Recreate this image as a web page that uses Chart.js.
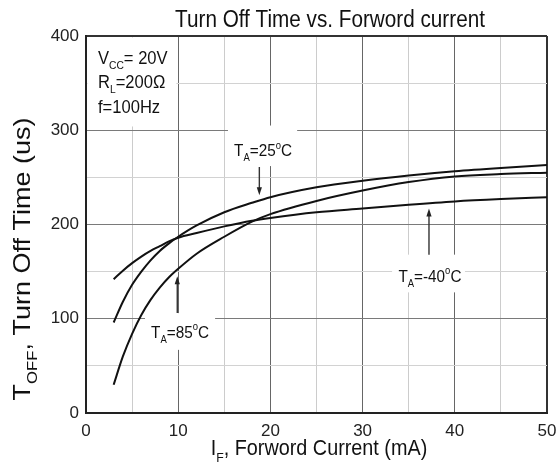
<!DOCTYPE html>
<html>
<head>
<meta charset="utf-8">
<script src="https://cdn.jsdelivr.net/npm/chart.js@4"></script>
<style>html,body{margin:0;padding:0;background:#fff}canvas{display:block}</style>
</head>
<body>
<canvas id="c" width="556" height="464"></canvas>
<script>
// ---- data ----
const currents     = [3, 4, 5, 6, 7, 8, 9, 10, 12, 15, 18, 20, 25, 30, 35, 40, 45, 50];
const toff25       = [96, 118, 136, 150, 162, 172, 180, 187, 199, 213, 223, 229, 239.5, 246.5, 252, 256.5, 260, 263];
const toff85       = [30, 60, 84, 104, 120, 133, 144, 153, 169, 187, 203, 211, 225, 236, 245, 251, 253.5, 255];
const toffMinus40  = [142, 151, 159, 166, 172, 177, 182, 186, 191, 198, 204, 207, 213, 217, 221, 224.5, 227, 229];
const xTickLabels  = [0, 10, 20, 30, 40, 50];
const yTickLabels  = [0, 100, 200, 300, 400];
const seriesNames  = ['TA=25°C', 'TA=85°C', 'TA=-40°C'];

const FONT = "'Liberation Sans', Arial, Helvetica, sans-serif";
const SX = 0.9;

function partsWidth(ctx, parts, size) {
  let w = 0;
  for (const [t, kind] of parts) {
    ctx.font = (kind ? size * 0.62 : size) + 'px ' + FONT;
    w += ctx.measureText(t).width;
  }
  return w;
}
function drawRich(ctx, parts, x, y, size, align, sx) {
  ctx.save();
  ctx.translate(x, y);
  ctx.scale(sx, 1);
  const w = partsWidth(ctx, parts, size);
  let cx = align === 'center' ? -w / 2 : (align === 'right' ? -w : 0);
  ctx.textAlign = 'left';
  ctx.textBaseline = 'alphabetic';
  ctx.fillStyle = '#111';
  for (const [t, kind] of parts) {
    const s = kind ? size * 0.62 : size;
    ctx.font = s + 'px ' + FONT;
    const dy = kind === 'sub' ? size * 0.3 : (kind === 'sup' ? -size * 0.42 : 0);
    ctx.fillText(t, cx, dy);
    cx += ctx.measureText(t).width;
  }
  ctx.restore();
}

const notes = [
  { parts: [['T'], ['A', 'sub'], ['=25'], ['o', 'sup'], ['C']], x: 19.2, y: 273, box: [15.4, 22.9, 305, 262], arrow: { x: 18.8, from: 261, to: 231 } },
  { parts: [['T'], ['A', 'sub'], ['=85'], ['o', 'sup'], ['C']], x: 10.2, y: 80, box: [6.4, 14.0, 106, 67], arrow: { x: 9.9, from: 106, to: 145 } },
  { parts: [['T'], ['A', 'sub'], ['=-40'], ['o', 'sup'], ['C']], x: 37.3, y: 139.5, box: [33.2, 41.1, 168, 128], arrow: { x: 37.2, from: 168, to: 217 } }
];

function arrow(ctx, px, y1, y2) {
  const dir = y2 > y1 ? 1 : -1;
  ctx.save();
  ctx.strokeStyle = '#333';
  ctx.fillStyle = '#222';
  ctx.lineWidth = 1.4;
  ctx.beginPath();
  ctx.moveTo(px, y1);
  ctx.lineTo(px, y2 - dir * 7);
  ctx.stroke();
  ctx.beginPath();
  ctx.moveTo(px, y2);
  ctx.lineTo(px - 2.6, y2 - dir * 8);
  ctx.lineTo(px + 2.6, y2 - dir * 8);
  ctx.closePath();
  ctx.fill();
  ctx.restore();
}

const annot = {
  id: 'annot',
  beforeDatasetsDraw(chart) {
    const { ctx, chartArea: ca, scales: { x, y } } = chart;
    ctx.save();
    ctx.fillStyle = '#fff';
    const bx = x.getPixelForValue(9.8), by = y.getPixelForValue(304);
    ctx.fillRect(ca.left + 1.5, ca.top + 1.5, bx - ca.left - 1.5, by - ca.top - 1.5);
    for (const n of notes) {
      const l = x.getPixelForValue(n.box[0]), r = x.getPixelForValue(n.box[1]);
      const t = y.getPixelForValue(n.box[2]), b = y.getPixelForValue(n.box[3]);
      ctx.fillRect(l, t, r - l, b - t);
    }
    ctx.restore();
  },
  afterDatasetsDraw(chart) {
    const { ctx, chartArea: ca, scales: { x, y } } = chart;
    for (const n of notes) {
      drawRich(ctx, n.parts, x.getPixelForValue(n.x), y.getPixelForValue(n.y), 17, 'center', SX);
      arrow(ctx, x.getPixelForValue(n.arrow.x), y.getPixelForValue(n.arrow.from), y.getPixelForValue(n.arrow.to));
    }
    // test conditions
    const lx = ca.left + 12;
    drawRich(ctx, [['V'], ['CC', 'sub'], ['= 20V']], lx, ca.top + 28, 18, 'left', 0.92);
    drawRich(ctx, [['R'], ['L', 'sub'], ['=200Ω']], lx, ca.top + 52, 18, 'left', 0.92);
    drawRich(ctx, [['f=100Hz']], lx, ca.top + 77, 18, 'left', 0.92);
  },
  afterDraw(chart) {
    const { ctx } = chart;
    drawRich(ctx, [['Turn Off Time vs. Forword current']], 330, 27, 23, 'center', SX);
    drawRich(ctx, [['I'], ['F', 'sub'], [', Forword Current (mA)']], 319, 455, 22, 'center', SX);
    ctx.save();
    ctx.translate(30, 259);
    ctx.rotate(-Math.PI / 2);
    ctx.scale(1, SX);
    drawRich(ctx, [['T'], ['OFF', 'sub'], [', Turn Off Time (us)']], 0, 0, 27, 'center', 1);
    ctx.restore();
  }
};

function series(ys) { return currents.map((c, i) => ({ x: c, y: ys[i] })); }
const lineStyle = { borderColor: '#111', borderWidth: 2, pointRadius: 0, fill: false, cubicInterpolationMode: 'monotone' };

new Chart(document.getElementById('c'), {
  type: 'line',
  data: {
    datasets: [
      Object.assign({ label: seriesNames[0], data: series(toff25) }, lineStyle),
      Object.assign({ label: seriesNames[1], data: series(toff85) }, lineStyle),
      Object.assign({ label: seriesNames[2], data: series(toffMinus40) }, lineStyle)
    ]
  },
  options: {
    responsive: false,
    animation: false,
    devicePixelRatio: 1,
    layout: { padding: { left: 0, right: 9, top: 36, bottom: 0 } },
    plugins: { legend: { display: false }, tooltip: { enabled: false }, title: { display: false } },
    scales: {
      x: {
        type: 'linear', min: 0, max: 50,
        ticks: {
          stepSize: 5, autoSkip: false, maxRotation: 0, padding: 8, color: '#222',
          font: { size: 17, family: FONT },
          callback: v => xTickLabels.includes(v) ? String(v) : ''
        },
        grid: {
          drawTicks: false,
          color: c => c.tick.value === 50 ? '#333' : (c.tick.value % 10 === 0 ? '#666' : '#cccccc'),
          lineWidth: c => c.tick.value === 50 ? 2 : 1
        },
        border: { color: '#222', width: 2 },
        afterFit: s => { s.height = 51; s.paddingLeft = 0; s.paddingRight = 0; }
      },
      y: {
        type: 'linear', min: 0, max: 400,
        ticks: {
          stepSize: 50, autoSkip: false, padding: 7, color: '#222',
          font: { size: 17, family: FONT },
          callback: v => yTickLabels.includes(v) ? String(v) : ''
        },
        grid: {
          drawTicks: false,
          color: c => c.tick.value === 400 ? '#333' : (c.tick.value % 100 === 0 ? '#7a7a7a' : '#d2d2d2'),
          lineWidth: c => c.tick.value === 400 ? 2 : 1
        },
        border: { color: '#222', width: 2 },
        afterFit: s => { s.width = 86; s.paddingTop = 0; s.paddingBottom = 0; }
      }
    }
  },
  plugins: [annot]
});
</script>
</body>
</html>
